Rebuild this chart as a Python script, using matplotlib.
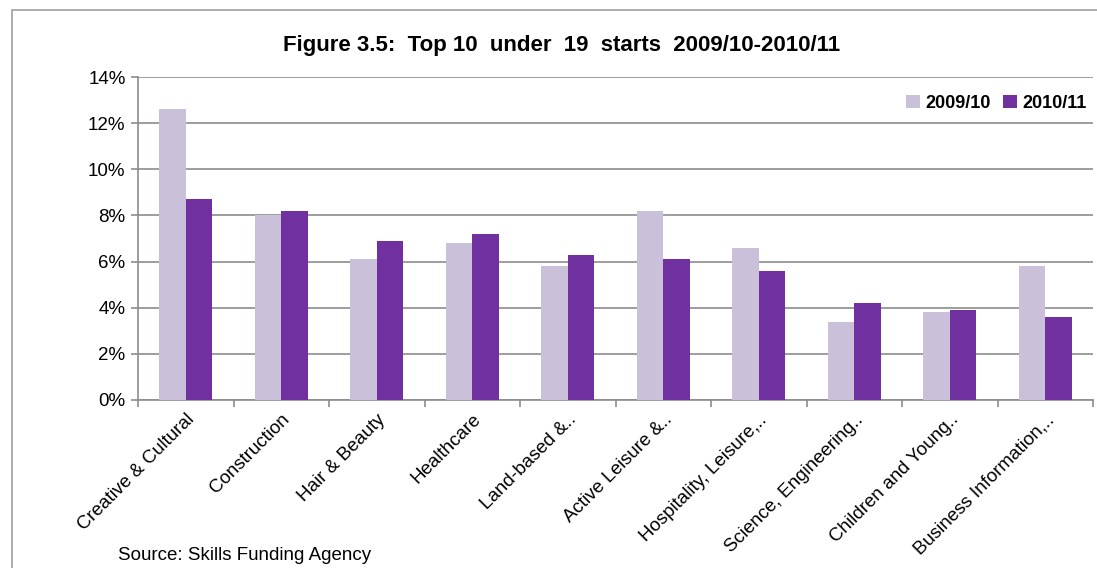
import numpy as np
import matplotlib
matplotlib.use("Agg")
import matplotlib.pyplot as plt
from matplotlib.patches import Rectangle
from matplotlib.ticker import FuncFormatter, MultipleLocator

plt.rcParams['font.family'] = ['Liberation Sans', 'DejaVu Sans']

# data
categories = ["Creative & Cultural", "Construction", "Hair & Beauty", "Healthcare",
              "Land-based &..", "Active Leisure &..", "Hospitality, Leisure,..",
              "Science, Engineering..", "Children and Young..", "Business Information,.."]
series_names = ["2009/10", "2010/11"]
vals_0910 = [12.6, 8.0, 6.1, 6.8, 5.8, 8.2, 6.6, 3.4, 3.8, 5.8]
vals_1011 = [8.7, 8.2, 6.9, 7.2, 6.3, 6.1, 5.6, 4.2, 3.9, 3.6]

light = "#CAC0DA"
dark = "#7030A0"
grey = "#8C8C8C"

fig = plt.figure(figsize=(10.97, 5.68), dpi=100)
ax = fig.add_axes([138 / 1097, 1 - 400 / 568, (1093 - 138) / 1097, (400 - 77) / 568])

# chart border
fig.patches.append(Rectangle((12 / 1097, -0.1), 1.2, 1 - 10 / 568 + 0.1,
                             transform=fig.transFigure, fill=False,
                             edgecolor="#A0A0A0", linewidth=1.2))

x = np.arange(len(categories))
w = 0.28
ax.bar(x - w / 2, vals_0910, w, color=light, label=series_names[0], zorder=3)
ax.bar(x + w / 2, vals_1011, w, color=dark, label=series_names[1], zorder=3)

ax.set_xlim(-0.5, len(categories) - 0.5)
ax.set_ylim(0, 14)
ax.yaxis.set_major_locator(MultipleLocator(2))
ax.yaxis.set_major_formatter(FuncFormatter(lambda v, p: "%d%%" % v))
ax.grid(axis="y", color=grey, linewidth=1.2, zorder=0)

for s in ["top", "right"]:
    ax.spines[s].set_visible(False)
for s in ["left", "bottom"]:
    ax.spines[s].set_color(grey)
    ax.spines[s].set_linewidth(1.2)

ax.set_xticks(np.arange(len(categories) + 1) - 0.5)
ax.set_xticklabels([])
ax.set_xticks(x, minor=True)
ax.set_xticklabels(categories, minor=True, rotation=45, ha="right",
                   rotation_mode="anchor", fontsize=13.5)
ax.tick_params(axis="x", which="major", length=5, color=grey, width=1.2)
ax.tick_params(axis="x", which="minor", length=0, pad=8)
ax.tick_params(axis="y", length=5, color=grey, width=1.2, labelsize=13.5, pad=4)

fig.text(562 / 1097, 1 - 46 / 568, "Figure 3.5:  Top 10  under  19  starts  2009/10-2010/11",
         ha="center", va="center", fontsize=16, fontweight="bold")

fig.text(118 / 1097, 1 - 555 / 568, "Source: Skills Funding Agency",
         ha="left", va="center", fontsize=13.5)

leg = ax.legend(loc="upper right", bbox_to_anchor=(1.01, 0.995), ncol=2, frameon=False,
                handlelength=0.75, handleheight=0.75, handletextpad=0.3,
                columnspacing=0.7, prop={"weight": "bold", "size": 13})

fig.savefig("out.png", dpi=100)
